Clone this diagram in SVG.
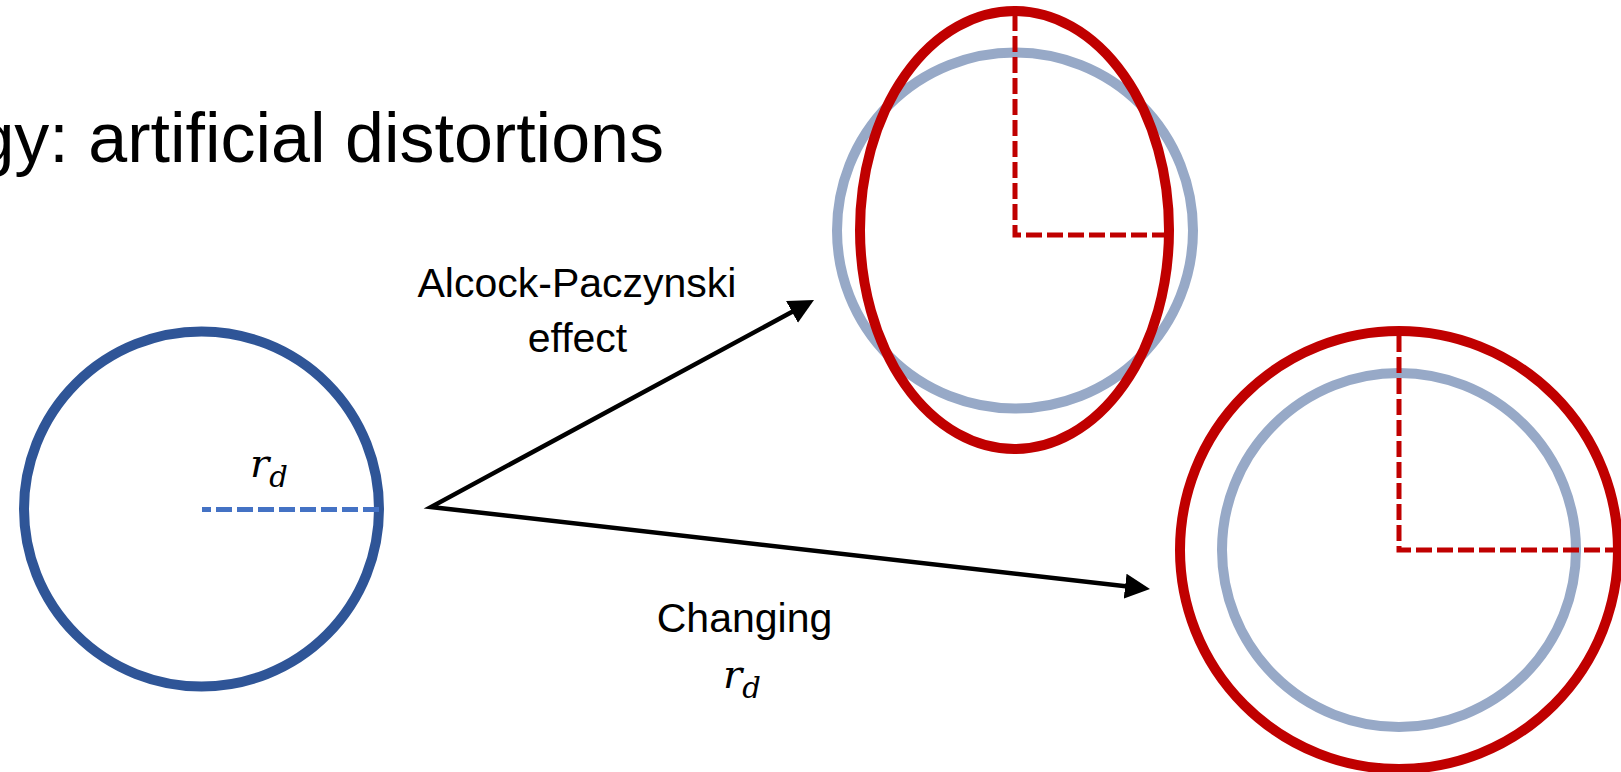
<svg xmlns="http://www.w3.org/2000/svg" width="1621" height="772" viewBox="0 0 1621 772">
  <style>
    .lbl { font-family: "Liberation Sans", Arial, sans-serif; font-size: 41px; fill: #000; text-anchor: middle; }
    .math { font-family: "DejaVu Serif", "Liberation Serif", serif; font-style: italic; font-size: 40px; fill: #000; }
    .sub { font-size: 29px; }
    .ring { fill: none; stroke-width: 10; }
    .red { stroke: #C00000; }
    .pale { stroke: #97A9C7; }
    .reddash { fill: none; stroke: #C00000; stroke-width: 5; stroke-dasharray: 16 5; }
    .conn { fill: none; stroke: #000; stroke-width: 4.5; stroke-linejoin: miter; }
  </style>
  <defs>
    <marker id="arrow" markerUnits="userSpaceOnUse" markerWidth="25" markerHeight="25" refX="5" refY="12.5" orient="auto-start-reverse">
      <path d="M0,0 L25,12.5 L0,25 Z" fill="#000"/>
    </marker>
  </defs>
  <rect width="1621" height="772" fill="#fff"/>

  <g id="title">
    <text x="664" y="162" style="font-family: 'Liberation Sans', Arial, sans-serif; font-size: 70px; text-anchor: end;" fill="#000">gy: artificial distortions</text>
  </g>

  <g id="original">
    <circle class="ring" cx="201.5" cy="509" r="177.5" stroke="#2F5597"/>
    <line x1="379" y1="509.5" x2="202" y2="509.5" stroke="#4472C4" stroke-width="5" stroke-dasharray="16 5"/>
    <text class="math" x="250" y="477">r<tspan class="sub" dy="10">d</tspan></text>
  </g>

  <g id="ap-result">
    <circle class="ring pale" cx="1015" cy="230.5" r="178"/>
    <ellipse class="ring red" cx="1014.5" cy="230" rx="154.5" ry="219"/>
    <path class="reddash" d="M1015,15 V235 H1164"/>
  </g>

  <g id="rd-result">
    <circle class="ring pale" cx="1399" cy="550" r="177"/>
    <circle class="ring red" cx="1399" cy="550" r="219"/>
    <path class="reddash" d="M1399,336 V550 H1614"/>
  </g>

  <g id="connectors">
    <path class="conn" d="M796.4,309.5 L431,507 L1130.1,586.7" marker-start="url(#arrow)" marker-end="url(#arrow)"/>
  </g>

  <g id="label-ap">
    <text class="lbl" x="577" y="297">Alcock-Paczynski</text>
    <text class="lbl" x="577.5" y="352">effect</text>
  </g>

  <g id="label-rd">
    <text class="lbl" x="744.5" y="632">Changing</text>
    <text class="math" x="723" y="688">r<tspan class="sub" dy="10">d</tspan></text>
  </g>
</svg>
